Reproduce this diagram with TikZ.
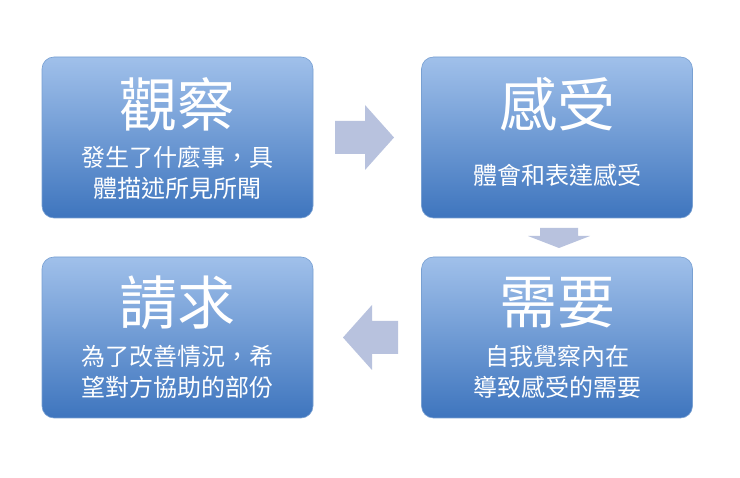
\documentclass[tikz,border=0pt]{standalone}
\usepackage{fontspec}
\newfontfamily\cjk{Noto Sans CJK TC}
\begin{document}
\begin{tikzpicture}[x=1pt,y=-1pt,
  card/.style={minimum width=271pt,minimum height=161pt,rounded corners=12pt,
    top color=topc, bottom color={rgb,255:red,62;green,117;blue,190},
    draw={rgb,255:red,120;green,160;blue,210},line width=0.6pt,inner sep=0pt},
  ttl/.style={text=white,font=\cjk\fontsize{58}{62}\selectfont},
  sub/.style={text=white,font=\cjk\fontsize{24}{31}\selectfont,align=center},
  blk/.style={fill={rgb,255:red,184;green,194;blue,222},draw=none}]
\definecolor{topc}{RGB}{160,192,234}
\useasboundingbox[fill=white] (0,0) rectangle (740,478);
\node[card] (a) at (177.5,137.5) {};
\node[card] (b) at (557,137.5) {};
\node[card] (c) at (557,337.5) {};
\node[card] (d) at (177.5,337.5) {};
\node[ttl] (at) at (177.5,104) {觀察};
\node[sub] (as) at (177.5,173) {發生了什麼事，具\\體描述所見所聞};
\node[ttl] (bt) at (557,104) {感受};
\node[sub] (bs) at (557,175) {體會和表達感受};
\node[ttl] (ct) at (557,303) {需要};
\node[sub] (cs) at (557,372) {自我覺察內在\\導致感受的需要};
\node[ttl] (dt) at (177.5,303) {請求};
\node[sub] (ds) at (177.5,372) {為了改善情況，希\\望對方協助的部份};
\fill[blk] (335,121) -- (365,121) -- (365,105) -- (394,137.5) -- (365,170) -- (365,154) -- (335,154) -- cycle;
\fill[blk] (540,228) -- (578,228) -- (578,236) -- (590,236) -- (559,248) -- (528,236) -- (540,236) -- cycle;
\fill[blk] (398,321) -- (372,321) -- (372,305) -- (343,337.5) -- (372,370) -- (372,354) -- (398,354) -- cycle;
\end{tikzpicture}
\end{document}
